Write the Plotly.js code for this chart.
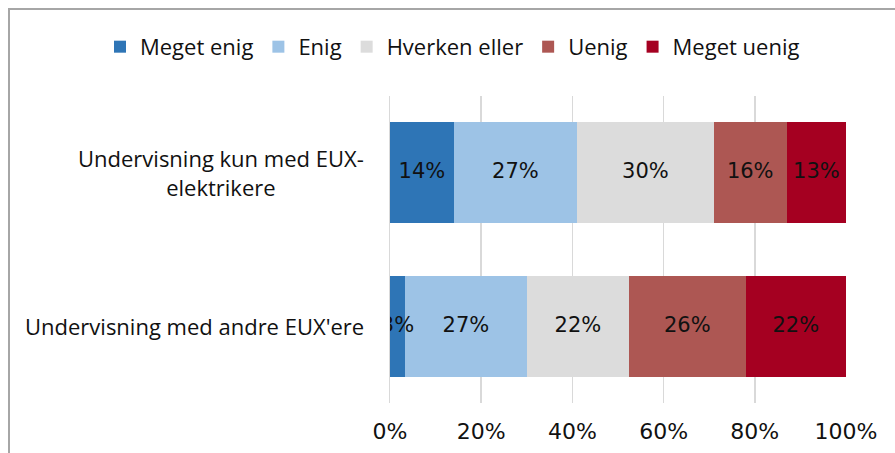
<!DOCTYPE html>
<html>
<head>
<meta charset="utf-8">
<script src="https://cdn.plot.ly/plotly-3.0.1.min.js"></script>
<style>
  html, body { margin: 0; padding: 0; background: #fff; }
  #wrap { position: relative; width: 895px; height: 453px; overflow: hidden; }
  #chart { position: absolute; left: 0; top: 0; width: 895px; height: 453px; }
  #frame { position: absolute; left: 8px; top: 8px; width: 900px; height: 460px;
           border-left: 2px solid #A6A6A6; border-top: 2px solid #A6A6A6; pointer-events: none; }
</style>
</head>
<body>
<div id="wrap">
  <div id="chart"></div>
  <div id="frame"></div>
</div>
<script>
const categories = ["Undervisning kun med EUX-<br>elektrikere", "Undervisning med andre EUX'ere"];
const seriesNames = ["Meget enig", "Enig", "Hverken eller", "Uenig", "Meget uenig"];
const megetEnig = [14, 3.3];
const enig = [27, 26.7];
const hverken = [30, 22.4];
const uenig = [16, 25.6];
const megetUenig = [13, 22.0];
const tickVals = [0, 0.2, 0.4, 0.6, 0.8, 1.0];
const tickLabels = ["0%", "20%", "40%", "60%", "80%", "100%"];

const colors = ["#2E75B6", "#9DC3E6", "#DCDCDC", "#AD5753", "#A50021"];
const series = [megetEnig, enig, hverken, uenig, megetUenig];

const traces = series.map((vals, i) => ({
  type: 'bar',
  orientation: 'h',
  name: seriesNames[i],
  y: categories,
  x: vals.map(v => v / 100),
  marker: { color: colors[i], line: { width: 0 } },
  hoverinfo: 'skip'
}));

// data labels at segment centres (drawn above all bars)
const lx = [], ly = [], lt = [];
categories.forEach((c, ci) => {
  let cum = 0;
  series.forEach(vals => {
    const v = vals[ci];
    lx.push((cum + v / 2) / 100);
    ly.push(c);
    lt.push(Math.round(v) + '%');
    cum += v;
  });
});
traces.push({
  type: 'scatter', mode: 'text', x: lx, y: ly, text: lt,
  textposition: 'middle center', showlegend: false, hoverinfo: 'skip',
  cliponaxis: true,
  textfont: { family: 'DejaVu Sans, sans-serif', size: 21, color: '#111' }
});

const annotations = categories.map(c => ({
  xref: 'paper', yref: 'y', x: 0, y: c,
  xanchor: 'right', yanchor: 'middle', xshift: -24,
  text: c, showarrow: false, align: 'center',
  font: { family: 'Open Sans, sans-serif', size: 22, color: '#111' }
}));

const layout = {
  width: 895, height: 453,
  margin: { l: 390, r: 49, t: 96, b: 50, autoexpand: false },
  paper_bgcolor: '#fff', plot_bgcolor: '#fff',
  barmode: 'stack',
  bargap: 0.342,
  showlegend: true,
  legend: {
    orientation: 'h', xref: 'paper', yref: 'paper',
    x: -0.636, xanchor: 'left', y: 1.16, yanchor: 'middle',
    traceorder: 'normal',
    font: { family: 'Open Sans, sans-serif', size: 22, color: '#111' },
    itemclick: false
  },
  xaxis: {
    range: [0, 1], tickvals: tickVals, ticktext: tickLabels,
    showgrid: true, gridcolor: '#D9D9D9', gridwidth: 1.5,
    zeroline: false, showline: false,
    ticks: 'outside', ticklen: 9, tickcolor: 'rgba(0,0,0,0)',
    tickfont: { family: 'DejaVu Sans, sans-serif', size: 22, color: '#111' },
    fixedrange: true
  },
  yaxis: {
    autorange: 'reversed', showticklabels: false, ticks: '',
    showline: true, linecolor: '#D9D9D9', linewidth: 1.5,
    showgrid: false, zeroline: false, fixedrange: true
  },
  annotations: annotations
};

Plotly.newPlot('chart', traces, layout, { displayModeBar: false, staticPlot: true });
</script>
</body>
</html>
